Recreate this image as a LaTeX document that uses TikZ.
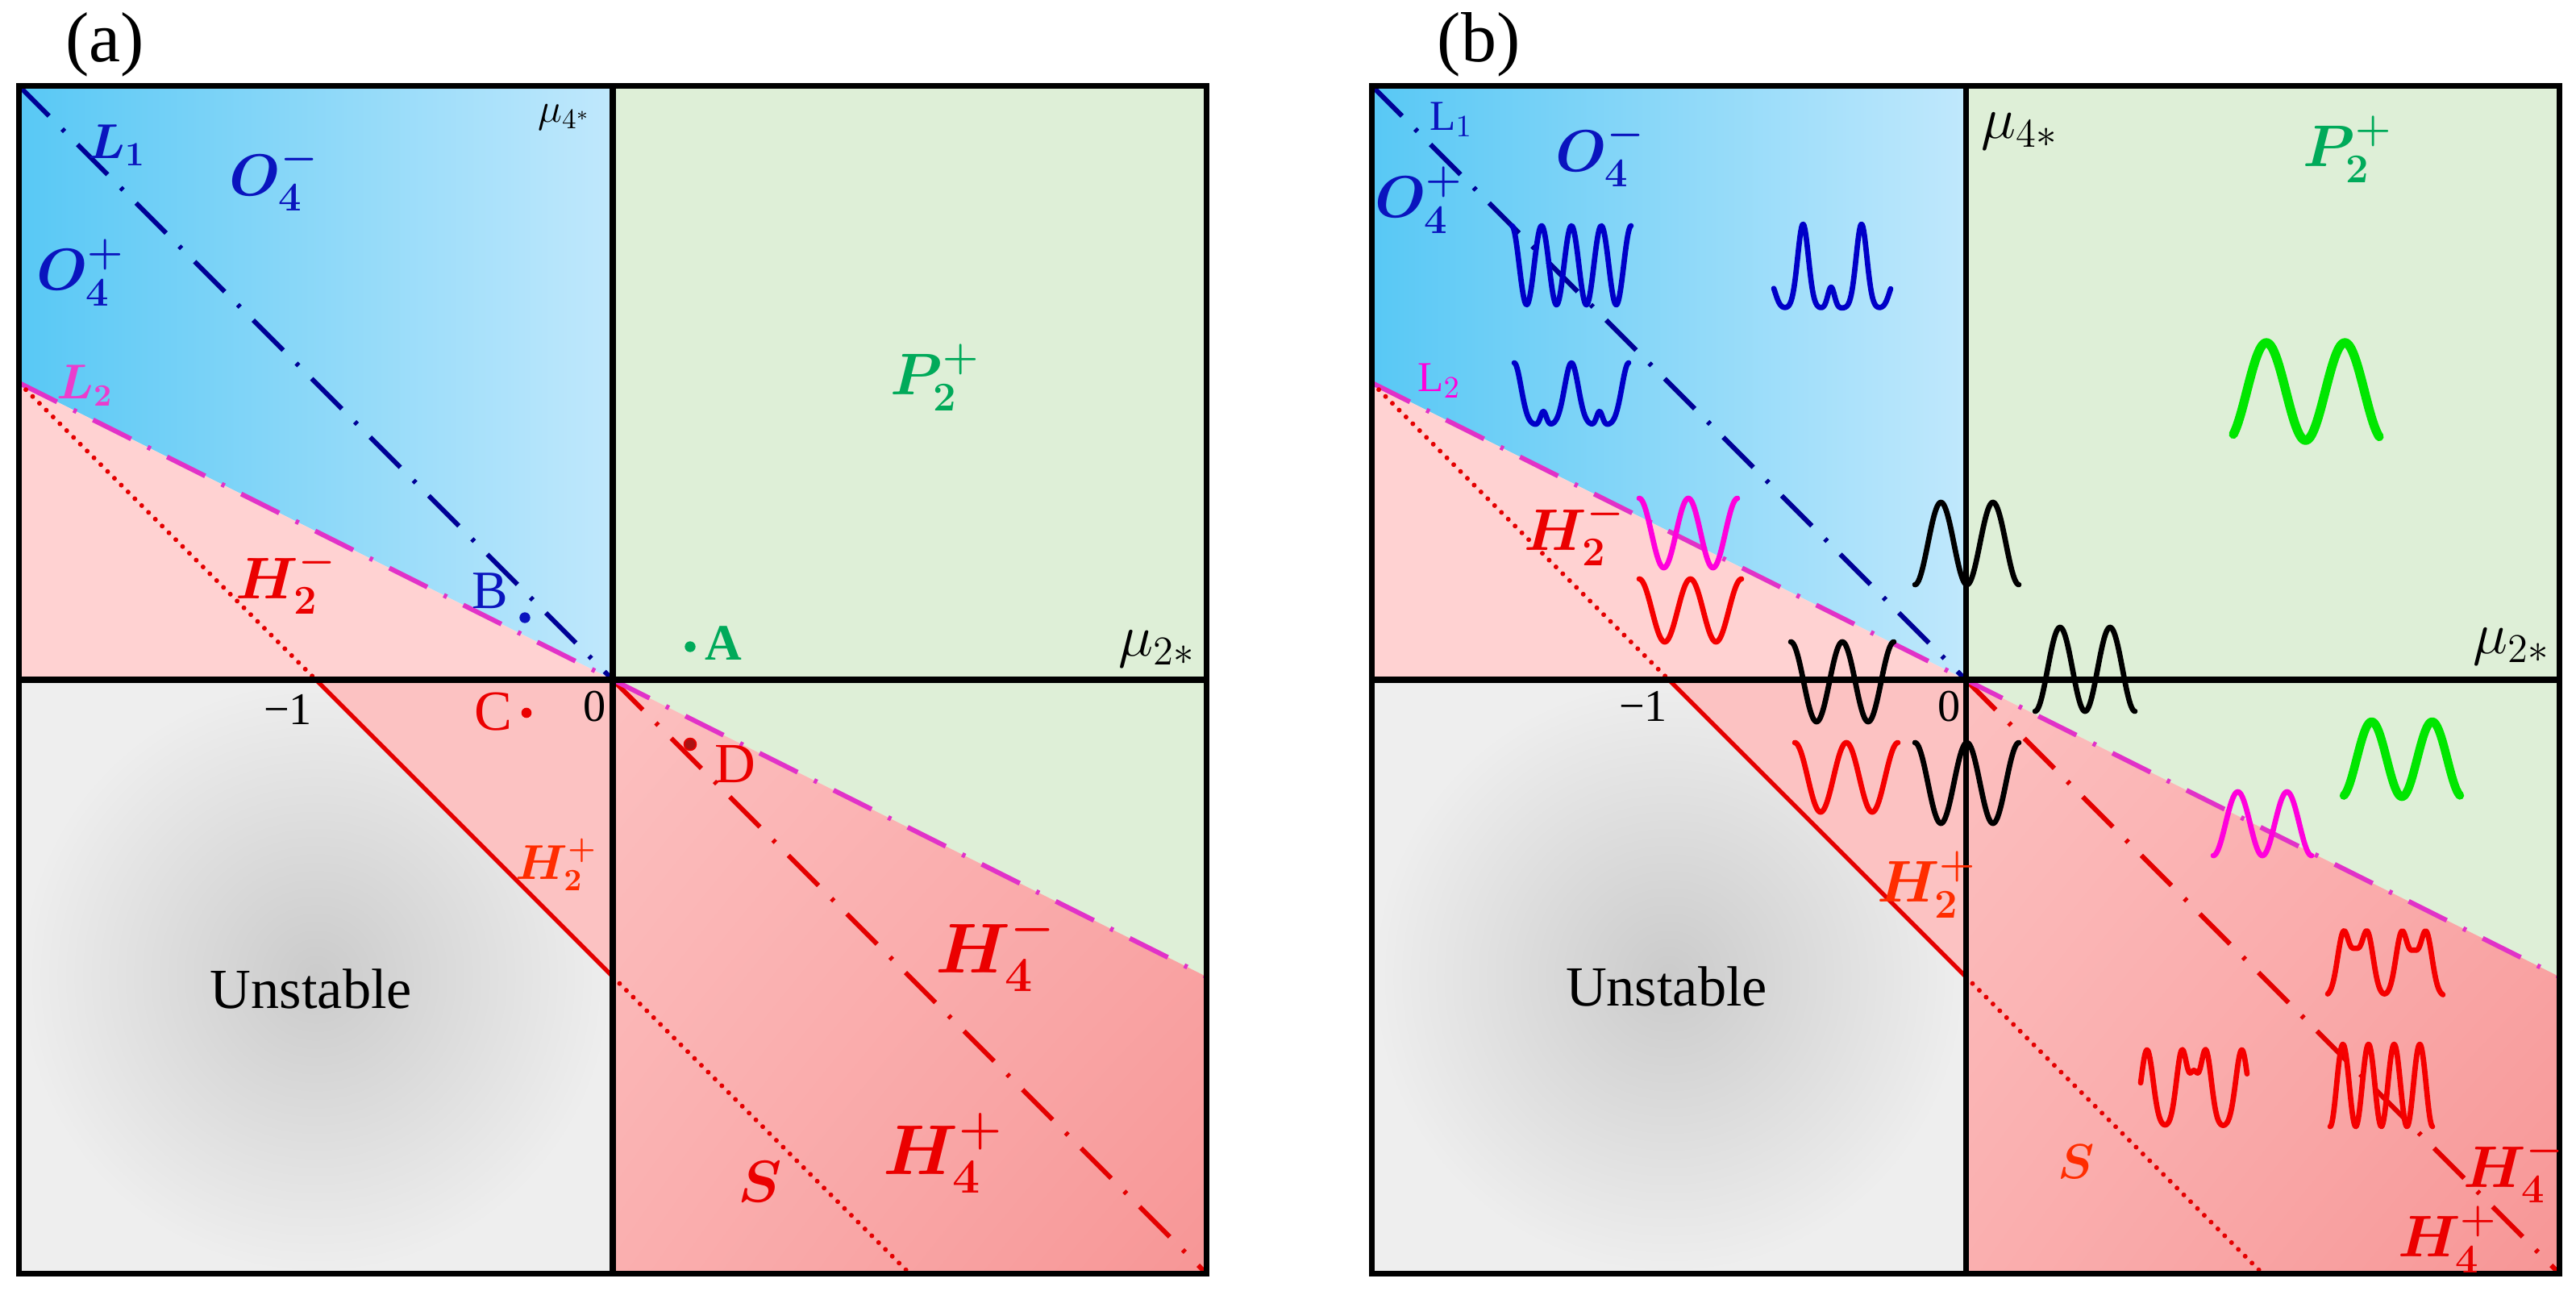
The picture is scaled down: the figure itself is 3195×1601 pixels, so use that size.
\documentclass[tikz,border=0pt]{standalone}
\usepackage{amsmath}
\usepackage{bm}
\usepackage[no-math]{fontspec}
\setmainfont{Liberation Serif}
\usetikzlibrary{shadings}
\newcommand{\fs}[1]{\fontsize{#1}{#1}\selectfont}
\pgfmathdeclarefunction{gs}{2}{\pgfmathparse{exp(-((#1)/(#2))*((#1)/(#2)))}}
\definecolor{bluedark}{RGB}{88,200,245}
\definecolor{bluelight}{RGB}{192,232,252}
\definecolor{greenbg}{RGB}{222,239,215}
\definecolor{pinklight}{RGB}{255,210,210}
\definecolor{pinkmid}{RGB}{252,192,192}
\definecolor{pinkur}{RGB}{250,172,172}
\definecolor{pinkll}{RGB}{250,175,175}
\definecolor{pinkdark}{RGB}{247,150,150}
\definecolor{pinktri}{RGB}{252,194,194}
\definecolor{graydark}{RGB}{203,203,203}
\definecolor{graylight}{RGB}{238,238,238}
\definecolor{lnavy}{RGB}{0,0,150}
\definecolor{lred}{RGB}{228,0,0}
\definecolor{lmag}{RGB}{225,50,200}
\definecolor{tblue}{RGB}{10,20,190}
\definecolor{tmag}{RGB}{235,60,205}
\definecolor{tgreen}{RGB}{0,170,90}
\definecolor{tred}{RGB}{235,0,0}
\definecolor{torange}{RGB}{255,45,0}
\definecolor{ddred}{RGB}{170,20,20}
\definecolor{wblue}{RGB}{0,0,200}
\definecolor{wred}{RGB}{245,0,0}
\definecolor{wmag}{RGB}{255,0,220}
\definecolor{wgreen}{RGB}{0,230,0}
% #1 style, #2 x0, #3 y0, #4 width (cm), #5 height (cm), #6 v(\x)
\newcommand{\wave}[6]{%
  \begin{scope}[shift={(#2,#3)}, x=#4cm, y=-#5cm]
    \draw[wv,#1] plot[domain=0:1, samples=140] (\x, {#6});
  \end{scope}}
\begin{document}
\begin{tikzpicture}[x=0.01cm, y=-0.01cm,
  dd/.style={line width=1.7pt, dash pattern=on 15pt off 6.5pt on 1.2pt off 6.5pt},
  dotl/.style={line width=1.7pt, line cap=round, dash pattern=on 0pt off 3.4pt, color=lred},
  frame/.style={line width=2pt, black},
  wv/.style={line width=1.9pt, line cap=round, line join=round},
  lab/.style={inner sep=0pt, anchor=center}]
\useasboundingbox (0,0) rectangle (3195,1601);
\fill[white] (0,0) rectangle (3195,1601);

\foreach \ox in {760,2438}{
\begin{scope}[shift={(\ox,843)}, x=3.68cm, y=3.68cm]
  \shade[left color=bluedark, right color=bluelight] (-2,2) -- (0,2) -- (0,0) -- (-2,1) -- cycle;
  \fill[pinklight] (-2,1) -- (0,0) -- (-2,0) -- cycle;
  \fill[greenbg] (0,0) rectangle (2,2);
  \fill[greenbg] (0,0) -- (2,0) -- (2,-1) -- cycle;
  \shade[upper left=pinkmid, upper right=pinkur, lower left=pinkll, lower right=pinkdark] (0,0) -- (2,-1) -- (2,-2) -- (0,-2) -- cycle;
  \shade[inner color=graydark, outer color=graylight] (-2,-2) rectangle (0,0);
  \fill[pinktri] (-1,0) -- (0,0) -- (0,-1) -- cycle;
  \draw[dd, lnavy] (-2,2) -- (0,0);
  \draw[dd, lred] (0,0) -- (2,-2);
  \draw[dd, lmag] (-2,1) -- (2,-1);
  \draw[dotl] (-2,1) -- (-1,0);
  \draw[dotl] (0,-1) -- (1,-2);
  \draw[lred, line width=1.5pt] (-1,0) -- (0,-1);
  \draw[frame] (-2,-2) rectangle (2,2);
  \draw[frame] (-2,0) -- (2,0) (0,-2) -- (0,2);
\end{scope}}

% ---------- panel (a) labels ----------
\node[lab, font=\fs{25}] (lbla) at (130,55) {(a)};
\node[lab, font=\fs{14}] (mu4a) at (700,146) {$\mu_{4^*}$};
\node[lab, text=tblue, font=\fs{17}] (L1a) at (145,180) {$\bm{L_1}$};
\node[lab, text=tblue, font=\fs{21}] (O4ma) at (340,220) {$\bm{O}^{\bm{-}}_{\bm{4}}$};
\node[lab, text=tblue, font=\fs{21}] (O4pa) at (100,338) {$\bm{O}^{\bm{+}}_{\bm{4}}$};
\node[lab, text=tmag, font=\fs{16}] (L2a) at (105,478) {$\bm{L_2}$};
\node[lab, text=tgreen, font=\fs{22}] (P2a) at (1160,468) {$\bm{P}^{\bm{+}}_{\bm{2}}$};
\fill[tgreen] (856,802) circle (1.9pt);
\node[lab, text=tgreen, font=\fs{18}\bfseries] (Aa) at (897,798) {A};
\node[lab, font=\fs{20}] (mu2a) at (1435,805) {$\mu_{2*}$};
\node[lab, text=tblue, font=\fs{19}] (Ba) at (608,733) {B};
\fill[tblue] (651,766) circle (1.9pt);
\node[lab, text=tred, font=\fs{20}] (Ca) at (612,883) {C};
\fill[tred] (653,884) circle (1.8pt);
\node[lab, font=\fs{16}] (zeroa) at (738,876) {0};
\node[lab, font=\fs{16}] (m1a) at (357,880) {−1};
\node[lab, text=tred, font=\fs{21}] (H2ma) at (355,720) {$\bm{H}^{\bm{-}}_{\bm{2}}$};
\fill[ddred, draw=tred, line width=0.5pt] (856,923) circle (2.1pt);
\node[lab, text=tred, font=\fs{20}] (Da) at (912,948) {D};
\node[lab, text=torange, font=\fs{16}] (H2pa) at (690,1072) {$\bm{H}^{\bm{+}}_{\bm{2}}$};
\node[lab, font=\fs{20}] (una) at (386,1226) {Unstable};
\node[lab, text=tred, font=\fs{23}] (H4ma) at (1235,1180) {$\bm{H}^{\bm{-}}_{\bm{4}}$};
\node[lab, text=tred, font=\fs{23}] (H4pa) at (1170,1430) {$\bm{H}^{\bm{+}}_{\bm{4}}$};
\node[lab, text=tred, font=\fs{21}] (Sa) at (943,1465) {$\bm{S}$};

% ---------- panel (b) labels ----------
\node[lab, font=\fs{25}] (lblb) at (1834,55) {(b)};
\node[lab, text=tblue, font=\fs{15}] (L1b) at (1800,148) {L$_1$};
\node[lab, text=tblue, font=\fs{21}] (O4mb) at (1985,190) {$\bm{O}^{\bm{-}}_{\bm{4}}$};
\node[lab, text=tblue, font=\fs{21}] (O4pb) at (1760,248) {$\bm{O}^{\bm{+}}_{\bm{4}}$};
\node[lab, text=wmag, font=\fs{15}] (L2b) at (1785,472) {L$_2$};
\node[lab, font=\fs{20}] (mu4b) at (2505,163) {$\mu_{4*}$};
\node[lab, text=tgreen, font=\fs{21}] (P2b) at (2912,185) {$\bm{P}^{\bm{+}}_{\bm{2}}$};
\node[lab, text=tred, font=\fs{20}] (H2mb) at (1953,660) {$\bm{H}^{\bm{-}}_{\bm{2}}$};
\node[lab, font=\fs{16}] (m1b) at (2038,876) {−1};
\node[lab, font=\fs{16}] (zerob) at (2418,876) {0};
\node[lab, font=\fs{20}] (mu2b) at (3115,802) {$\mu_{2*}$};
\node[lab, text=torange, font=\fs{21}] (H2pb) at (2390,1097) {$\bm{H}^{\bm{+}}_{\bm{2}}$};
\node[lab, font=\fs{20}] (unb) at (2067,1223) {Unstable};
\node[lab, text=torange, font=\fs{19}] (Sb) at (2575,1441) {$\bm{S}$};
\node[lab, text=tred, font=\fs{21}] (H4mb) at (3118,1450) {$\bm{H}^{\bm{-}}_{\bm{4}}$};
\node[lab, text=tred, font=\fs{21}] (H4pb) at (3036,1537) {$\bm{H}^{\bm{+}}_{\bm{4}}$};

% ---------- panel (b) profiles ----------
\wave{wblue}{1875}{280}{1.48}{0.98}{0.5-0.5*cos(1440*\x)}
\wave{wblue}{2200}{278}{1.45}{1.04}{1-(gs(\x-0.25,0.065)+gs(\x-0.75,0.065)+0.25*gs(\x-0.49,0.04)+0.3*gs(\x+0.03,0.06)+0.3*gs(\x-1.03,0.06))}
\wave{wblue}{1878}{450}{1.42}{0.77}{1-(gs(\x,0.085)+gs(\x-0.5,0.085)+gs(\x-1,0.085)+0.22*gs(\x-0.255,0.035)+0.22*gs(\x-0.745,0.035))}
\wave{wgreen, line width=3.2pt}{2770}{425}{1.81}{1.21}{0.5+0.5*cos(720*(0.04+0.93*\x))}
\wave{wmag}{2033}{618}{1.22}{0.86}{0.5-0.5*cos(720*\x)}
\wave{wred}{2033}{718}{1.27}{0.78}{0.5-0.5*cos(720*\x)}
\wave{black}{2375}{623}{1.29}{1.02}{0.5+0.5*cos(720*\x)}
\wave{black}{2524}{778}{1.24}{1.04}{0.5+0.5*cos(720*\x)}
\wave{black}{2221}{796}{1.28}{0.99}{0.5-0.5*cos(720*\x)}
\wave{wred}{2226}{921}{1.28}{0.86}{0.5-0.5*cos(720*\x)}
\wave{black}{2375}{921}{1.29}{1.00}{0.5-0.5*cos(720*\x)}
\wave{wgreen, line width=3pt}{2907}{895}{1.44}{0.93}{0.5+0.5*cos(720*(0.02+0.96*\x))}
\wave{wmag}{2745}{982}{1.22}{0.79}{0.5+0.5*cos(720*\x)}
\wave{wred}{2887}{1155}{1.43}{0.80}{1-(gs(\x-0.14,0.075)+gs(\x-0.34,0.075)+0.4*gs(\x-0.24,0.05)+gs(\x-0.645,0.075)+gs(\x-0.85,0.075)+0.4*gs(\x-0.7475,0.05))}
\wave{wred}{2655}{1302}{1.32}{0.95}{1-(gs(\x-0.06,0.08)+gs(\x-0.39,0.075)+gs(\x-0.61,0.075)+0.5*gs(\x-0.5,0.05)+gs(\x-0.95,0.08))}
\wave{wred}{2890}{1295}{1.27}{1.02}{0.5+0.5*cos(1440*\x)}
\end{tikzpicture}
\end{document}
